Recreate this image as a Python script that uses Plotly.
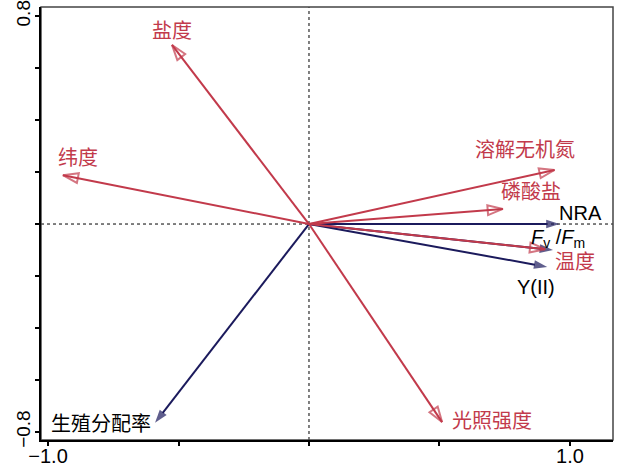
import plotly.graph_objects as go

# RDA biplot: explanatory variables (red) and response variables (navy)
env_names = ["盐度", "纬度", "溶解无机氮", "磷酸盐", "温度", "光照强度"]
env_x = [-0.525, -0.943, 0.941, 0.743, 0.905, 0.51]
env_y = [0.689, 0.188, 0.208, 0.058, -0.097, -0.762]

resp_names = ["NRA", "<i>F</i><sub>v</sub> /<i>F</i><sub>m</sub>", "Y(II)", "生殖分配率"]
resp_x = [0.96, 0.935, 0.913, -0.59]
resp_y = [0.0, -0.1, -0.165, -0.765]

x_ticks = [-1.0, -0.5, 0.0, 0.5, 1.0]
x_tick_text = ["\u22121.0", " ", " ", " ", "1.0"]
y_ticks = [-0.8, -0.6, -0.4, -0.2, 0.0, 0.2, 0.4, 0.6, 0.8]
y_tick_text = ["\u22120.8", " ", " ", " ", " ", " ", " ", " ", "0.8"]

RED = "#C23A4B"
NAVY = "#1B1A5C"
FONT = "Liberation Sans, Arial, Noto Sans CJK SC, sans-serif"

# label anchor points (data units) for each arrow label
env_label_pos = {
    "盐度": (-0.525, 0.742),
    "纬度": (-0.885, 0.254),
    "溶解无机氮": (0.828, 0.285),
    "磷酸盐": (0.851, 0.123),
    "温度": (1.019, -0.146),
    "光照强度": (0.701, -0.758),
}
resp_label_pos = [(1.042, 0.042), (0.955, -0.054), (0.870, -0.242), (-0.797, -0.769)]

fig = go.Figure()

for xv, yv in zip(resp_x, resp_y):
    fig.add_trace(go.Scatter(
        x=[0, xv], y=[0, yv], mode="lines+markers",
        line=dict(color=NAVY, width=2),
        marker=dict(symbol=["circle", "arrow"], size=[0, 14], angleref="previous",
                    color=NAVY, line=dict(width=0)),
        hoverinfo="skip", showlegend=False,
    ))

for xv, yv in zip(env_x, env_y):
    fig.add_trace(go.Scatter(
        x=[0, xv], y=[0, yv], mode="lines+markers",
        line=dict(color=RED, width=2),
        marker=dict(symbol=["circle", "arrow-open"], size=[0, 16], angleref="previous",
                    color=RED, line=dict(width=2, color=RED)),
        hoverinfo="skip", showlegend=False,
    ))

annotations = []
for name in env_names:
    lx, ly = env_label_pos[name]
    annotations.append(dict(x=lx, y=ly, xref="x", yref="y", text=name, showarrow=False,
                            font=dict(family=FONT, size=20, color=RED)))
for name, (lx, ly) in zip(resp_names, resp_label_pos):
    annotations.append(dict(x=lx, y=ly, xref="x", yref="y", text=name, showarrow=False,
                            font=dict(family=FONT, size=20, color="black")))

shapes = [
    dict(type="line", xref="paper", yref="y", x0=0, x1=1, y0=0, y1=0,
         line=dict(color="black", width=1, dash="dot"), layer="below"),
    dict(type="line", xref="x", yref="paper", x0=0, x1=0, y0=0, y1=1,
         line=dict(color="black", width=1, dash="dot"), layer="below"),
    dict(type="rect", xref="paper", yref="paper", x0=0, x1=1, y0=0, y1=1,
         line=dict(color="#444444", width=1.5), layer="below"),
]

fig.update_layout(
    width=618, height=467,
    margin=dict(l=41, r=5, t=7, b=27, autoexpand=False),
    paper_bgcolor="white", plot_bgcolor="white",
    font=dict(family=FONT, size=20, color="black"),
    hovermode=False,
    annotations=annotations,
    shapes=shapes,
    xaxis=dict(range=[-1.027, 1.165], tickvals=x_ticks, ticktext=x_tick_text,
               ticks="outside", ticklen=4, tickwidth=1.5, tickcolor="black",
               ticklabelstandoff=-7, ticklabeloverflow="allow",
               showline=True, linecolor="black", linewidth=2, automargin=False,
               showgrid=False, zeroline=False, tickfont=dict(size=20)),
    yaxis=dict(range=[-0.831, 0.835], tickvals=y_ticks, ticktext=y_tick_text,
               ticks="outside", ticklen=4, tickwidth=1.5, tickcolor="black",
               ticklabelstandoff=-3, ticklabeloverflow="allow",
               showline=True, linecolor="black", linewidth=2, tickangle=-90,
               automargin=False,
               showgrid=False, zeroline=False, tickfont=dict(size=19)),
)

fig.write_html("out.html")
